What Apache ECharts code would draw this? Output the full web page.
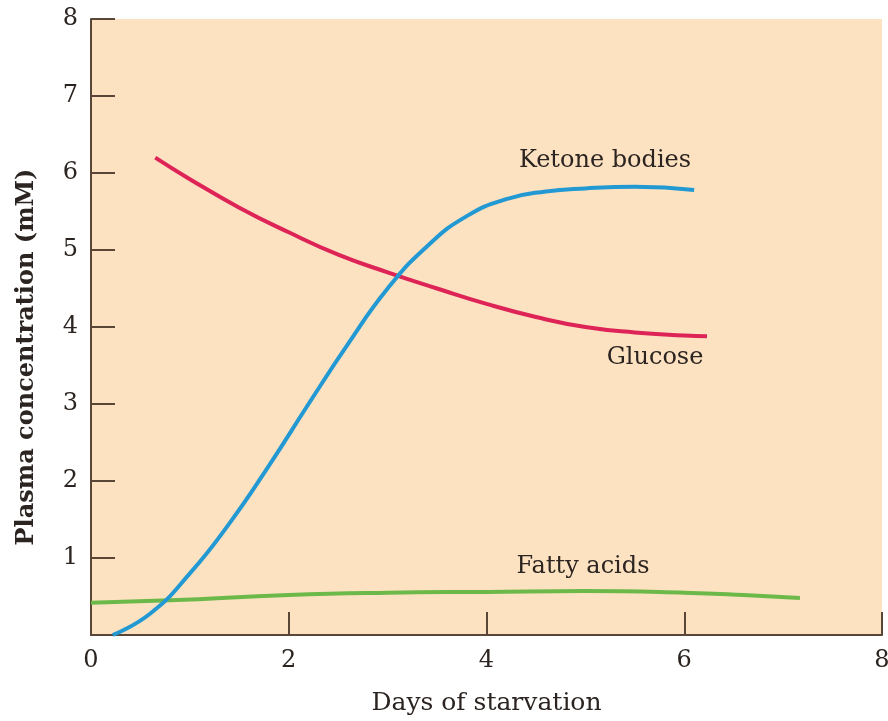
<!DOCTYPE html>
<html>
<head>
<meta charset="utf-8">
<script src="https://cdn.jsdelivr.net/npm/echarts@6/dist/echarts.min.js"></script>
<style>
  html, body { margin: 0; padding: 0; background: #fff; }
  #chart { width: 888px; height: 721px; }
</style>
</head>
<body>
<div id="chart"></div>
<script>
// values (days, mM)
var glucose = [[0.65, 6.2], [1, 5.92], [1.5, 5.55], [2, 5.23], [2.5, 4.94], [3, 4.71], [3.5, 4.5],
    [4, 4.3], [4.5, 4.13], [5, 4.0], [5.5, 3.93], [6, 3.89], [6.23, 3.88]];
var ketone = [[0.22, 0], [0.6, 0.28], [1, 0.8], [1.4, 1.45], [1.8, 2.2], [2.2, 3.0], [2.6, 3.78],
    [3, 4.5], [3.4, 5.05], [3.8, 5.44], [4.2, 5.66], [4.6, 5.76], [5, 5.8], [5.5, 5.82], [6.1, 5.78]];
var fattyAcids = [[0, 0.42], [0.8, 0.45], [2, 0.52], [3, 0.55], [4, 0.56], [5, 0.57], [6, 0.55],
    [6.6, 0.52], [7.17, 0.48]];

var serif = 'DejaVu Serif';
var axisColor = '#5a4636';
var textColor = '#2b2420';

var chart = echarts.init(document.getElementById('chart'));

function lineSeries(name, data, color) {
    return {
        name: name,
        type: 'line',
        data: data,
        smooth: 0.5,
        showSymbol: false,
        lineStyle: { color: color, width: 4 },
        z: 3
    };
}

function note(text, x, y) {
    return {
        type: 'text', x: x, y: y,
        style: { text: text, fontFamily: serif, fontSize: 24, fill: textColor, align: 'center', verticalAlign: 'middle' }
    };
}

var option = {
    animation: false,
    grid: {
        left: 91, top: 19, right: 6, bottom: 86,
        outerBoundsMode: 'none',
        show: true,
        backgroundColor: '#fde2c2',
        borderWidth: 0
    },
    xAxis: {
        type: 'value',
        min: 0, max: 8, interval: 2,
        name: 'Days of starvation',
        nameLocation: 'middle',
        nameGap: 56,
        nameTextStyle: { fontFamily: serif, fontSize: 25, color: textColor },
        axisLine: { show: true, lineStyle: { color: axisColor, width: 2 } },
        axisTick: { show: true, inside: true, length: 23, lineStyle: { color: axisColor, width: 2 } },
        axisLabel: { fontFamily: serif, fontSize: 24, color: textColor, margin: 14 },
        splitLine: { show: false }
    },
    yAxis: {
        type: 'value',
        min: 0, max: 8, interval: 1,
        axisLine: { show: true, lineStyle: { color: axisColor, width: 2 } },
        axisTick: { show: true, inside: true, length: 24, lineStyle: { color: axisColor, width: 2 } },
        axisLabel: {
            fontFamily: serif, fontSize: 24, color: textColor, margin: 13,
            formatter: function (v) { return v === 0 ? '' : String(v); }
        },
        splitLine: { show: false }
    },
    graphic: [
        {
            type: 'text', x: 27, y: 357, rotation: Math.PI / 2,
            style: {
                text: 'Plasma concentration (mM)', fontFamily: serif, fontSize: 24, fontWeight: 'bold',
                fill: textColor, align: 'center', verticalAlign: 'middle'
            }
        },
        note('Ketone bodies', 605, 161),
        note('Glucose', 655, 358),
        note('Fatty acids', 583, 567)
    ],
    series: [
        lineSeries('Fatty acids', fattyAcids, '#6cb94a'),
        lineSeries('Glucose', glucose, '#de2457'),
        lineSeries('Ketone bodies', ketone, '#2399d3')
    ]
};
chart.setOption(option, true);
</script>
</body>
</html>
